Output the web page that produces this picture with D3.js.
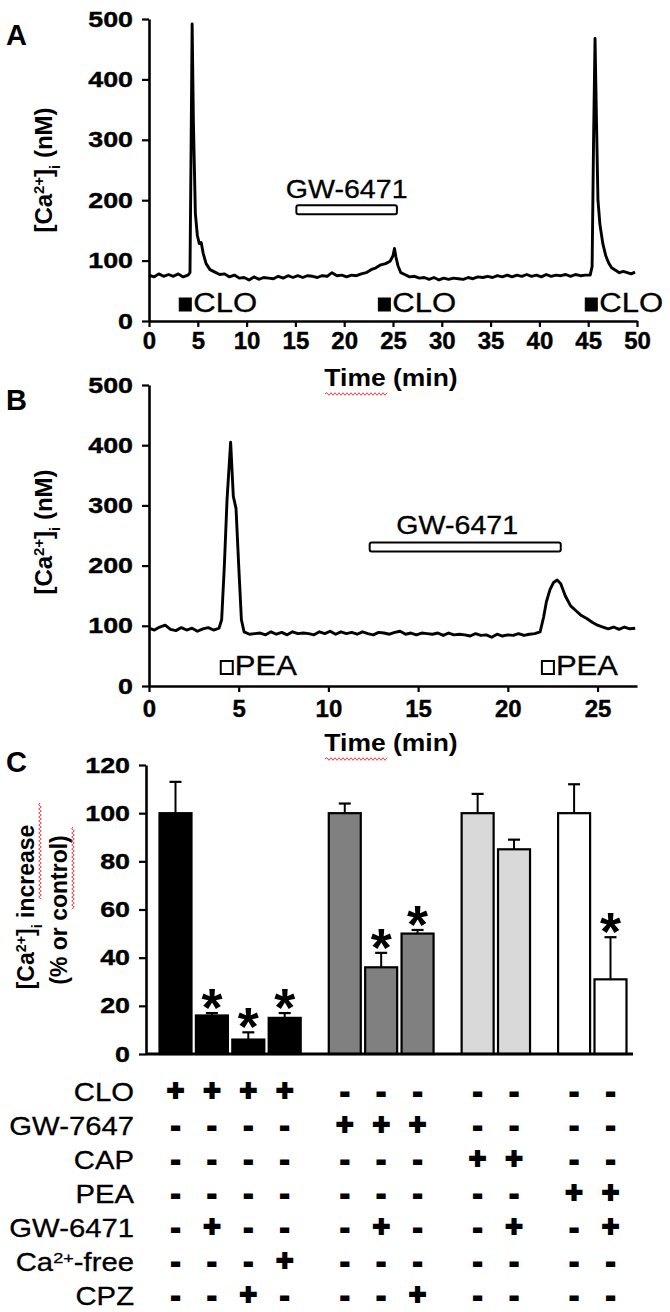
<!DOCTYPE html>
<html><head><meta charset="utf-8">
<script src="https://cdn.jsdelivr.net/npm/d3@7"></script>
<style>
body{margin:0;background:#fff}
svg{display:block}
text{font-family:"Liberation Sans",Arial,sans-serif;fill:#000}
</style>
</head><body>
<svg id="chart" width="670" height="1312"></svg>
<script>
// ---------- DATA ----------
// Panel A: CLO trace
const aTime = [0,0.5,1,1.5,2,2.5,3,3.5,4,4.2,4.32,4.42,4.55,4.75,4.95,5.15,5.35,5.55,5.85,6.25,6.75,7.25,7.75,8.25,8.75,9.25,9.75,10.25,10.75,11.25,11.75,12.25,12.75,13.25,13.75,14.25,14.75,15.25,15.75,16.25,16.75,17.25,17.75,18.25,18.75,19.25,19.75,20.25,20.75,21.25,21.75,22.25,22.75,23.25,23.75,24.25,24.7,25.0,25.15,25.3,25.5,25.8,26.2,26.7,27.2,27.7,28.2,28.7,29.2,29.7,30.2,30.7,31.2,31.7,32.2,32.7,33.2,33.7,34.2,34.7,35.2,35.7,36.2,36.7,37.2,37.7,38.2,38.7,39.2,39.7,40.2,40.7,41.2,41.7,42.2,42.7,43.2,43.7,44.2,44.7,45.2,45.4,45.55,45.7,45.85,46.0,46.2,46.5,46.8,47.1,47.4,47.8,48.2,48.6,49.0,49.4,49.8];
const aCa   = [76,73,78,74,77,74,78,73,76,80,300,492,330,178,142,128,130,112,95,85,81,77,78,73,76,71,72,68,73,69,72,71,70,74,71,75,72,75,72,75,74,72,75,74,80,75,76,73,76,75,78,80,85,88,93,95,99,108,120,106,92,80,77,73,74,71,72,69,72,68,71,69,71,70,69,72,70,73,72,74,72,75,73,76,73,76,74,77,74,76,73,77,74,76,75,77,74,77,75,76,76,90,300,468,330,200,160,128,108,96,88,84,80,82,80,78,81];
const aStimOnset = [3.1, 23.5, 44.7];
const aStimLabel = "CLO";
const aDrugSpan = [15.1, 25.4];
const aDrugLabel = "GW-6471";
const aTicksX = [0,5,10,15,20,25,30,35,40,45,50];
const aTicksY = [0,100,200,300,400,500];

// Panel B: PEA trace
const bTime = [0,0.3,0.6,0.9,1.2,1.5,1.8,2.1,2.4,2.7,3.0,3.3,3.6,3.9,4.05,4.2,4.35,4.55,4.7,4.85,5.0,5.15,5.3,5.6,5.9,6.2,6.5,6.8,7.1,7.4,7.7,8.0,8.3,8.6,8.9,9.2,9.5,9.8,10.1,10.4,10.7,11.0,11.3,11.6,11.9,12.2,12.5,12.8,13.1,13.4,13.7,14.0,14.3,14.6,14.9,15.2,15.5,15.8,16.1,16.4,16.7,17.0,17.3,17.6,17.9,18.2,18.5,18.8,19.1,19.4,19.7,20.0,20.3,20.6,20.9,21.2,21.5,21.8,22.0,22.15,22.35,22.55,22.75,22.95,23.2,23.5,23.8,24.1,24.4,24.7,25.0,25.3,25.6,25.9,26.2,26.5,26.8,27.1];
const bCa   = [96,93,98,101,94,92,97,93,96,91,95,97,93,96,110,200,310,405,315,295,200,110,90,86,87,88,85,90,86,89,85,90,87,88,87,85,90,87,91,86,90,87,89,86,90,87,85,89,88,86,89,91,86,88,85,88,87,86,88,84,88,85,86,85,83,87,84,85,81,86,83,85,84,87,84,86,87,90,115,140,160,172,176,170,150,133,125,117,112,106,101,98,95,98,94,98,95,96];
const bStimOnset = [4.0, 21.9];
const bStimLabel = "PEA";
const bDrugSpan = [12.3, 22.95];
const bDrugLabel = "GW-6471";
const bTicksX = [0,5,10,15,20,25];
const bTicksY = [0,100,200,300,400,500];

// Panel C: bar chart
const cMean  = [100,16,6,15,100,36,50,100,85,100,31];
const cSem   = [13,1,3,2,4,6,1.5,8,4,12,17.5];
const cGroup = [0,0,0,0,1,1,1,2,2,3,3];
const cSig   = [0,1,1,1,0,1,1,0,0,0,1];
const cFills = ["#000000","#808080","#d9d9d9","#ffffff"];
const cTicksY = [0,20,40,60,80,100,120];
const cRowLabels = ["CLO","GW-7647","CAP","PEA","GW-6471","Ca2+-free","CPZ"];
const cRows = [
  "++++-------",
  "----+++----",
  "-------++--",
  "---------++",
  "-+---+--+-+",
  "---+-------",
  "--+---+----"
];

// ---------- DRAWING ----------
const svg = d3.select("#chart");
function stretch(sel, k){
  sel.each(function(){
    const L = this.getComputedTextLength();
    d3.select(this).attr("textLength", L*k).attr("lengthAdjust","spacingAndGlyphs");
  });
}
function caLabel(t, extra){
  t.append("tspan").text("[Ca");
  t.append("tspan").attr("baseline-shift","super").attr("font-size","62%").text("2+");
  t.append("tspan").text("]");
  t.append("tspan").attr("baseline-shift","sub").attr("font-size","62%").text("i");
  t.append("tspan").text(extra);
}
function wavyH(x0,x1,y){
  let d = `M${x0},${y}`; let up = true;
  for(let x=x0+2;x<=x1;x+=2){ d += `L${x},${y+(up?-1.3:1.3)}`; up=!up; }
  svg.append("path").attr("d",d).attr("fill","none").attr("stroke","#e8434a").attr("stroke-width",1);
}
function wavyV(x,y0,y1){
  let d = `M${x},${y0}`; let up = true;
  for(let y=y0+2;y<=y1;y+=2){ d += `L${x+(up?-1.3:1.3)},${y}`; up=!up; }
  svg.append("path").attr("d",d).attr("fill","none").attr("stroke","#e8434a").attr("stroke-width",1);
}
function styleTicks(g, size, k){
  g.selectAll("text").attr("font-size",size).attr("font-weight","bold")
    .attr("font-family","Liberation Sans, Arial").attr("fill","#000")
    .attr("stroke","#000").attr("stroke-width",0.4);
  if(k) stretch(g.selectAll("text"), k);
}

function tracePanel(o){
  const x = d3.scaleLinear().domain(o.xDom).range([149,637]);
  const y = d3.scaleLinear().domain([0,500]).range([o.y0, o.y500]);
  const gx = svg.append("g").attr("transform",`translate(0,${o.y0})`)
    .call(d3.axisBottom(x).tickValues(o.ticksX).tickSize(6).tickSizeOuter(0).tickPadding(o.xPad));
  const gy = svg.append("g").attr("transform",`translate(149,0)`)
    .call(d3.axisLeft(y).tickValues(o.ticksY).tickSize(7).tickSizeOuter(0).tickPadding(9));
  [gx,gy].forEach(g=>{
    g.select(".domain").attr("stroke","#000").attr("stroke-width",2.6);
    g.selectAll(".tick line").attr("stroke","#000").attr("stroke-width",2.2);
  });
  styleTicks(gx, 24, 0);
  styleTicks(gy, 22, 1.22);
  const line = d3.line().x((d,i)=>x(o.time[i])).y(d=>y(d));
  svg.append("path").datum(o.vals).attr("d",line).attr("fill","none")
    .attr("stroke","#000").attr("stroke-width",2.9).attr("stroke-linejoin","round");
  o.stim.forEach(t=>{
    const sx = x(t);
    svg.append("rect").attr("x",sx).attr("y",o.stimY-o.sq).attr("width",o.sq-1).attr("height",o.sq)
      .attr("fill",o.open?"#fff":"#000").attr("stroke","#000").attr("stroke-width",o.open?2:1);
    const tx = svg.append("text").attr("x",sx+o.sq+1).attr("y",o.stimY+1).attr("font-size",27)
      .attr("stroke","#000").attr("stroke-width",0.3).text(o.stimLabel);
    stretch(tx, 1.15);
  });
  const yb = y(o.drugVal);
  svg.append("rect").attr("x",x(o.drug[0])).attr("y",yb-4.5).attr("width",x(o.drug[1])-x(o.drug[0])).attr("height",9)
    .attr("rx",2).attr("fill","#fff").attr("stroke","#000").attr("stroke-width",2);
  const dl = svg.append("text").attr("x",(x(o.drug[0])+x(o.drug[1]))/2+o.labelDx).attr("y",yb-o.labelGap)
    .attr("text-anchor","middle").attr("font-size",26).attr("stroke","#000").attr("stroke-width",0.3).text(o.drugLabel);
  stretch(dl, 1.1);
  const xt = svg.append("text").attr("x",391).attr("y",o.titleY).attr("text-anchor","middle")
    .attr("font-size",23).attr("font-weight","bold").text("Time (min)");
  stretch(xt, 1.15);
  wavyH(325,387,o.titleY+8);
  const yt = svg.append("text").attr("transform",`translate(${o.ytX},${o.ytY}) rotate(-90)`)
    .attr("text-anchor","middle").attr("font-size",24).attr("font-weight","bold");
  caLabel(yt," (nM)");
  svg.append("text").attr("x",6).attr("y",o.letterY).attr("font-size",29).attr("font-weight","bold").text(o.letter);
}

tracePanel({xDom:[0,50], y0:321, y500:19, ticksX:aTicksX, ticksY:aTicksY, time:aTime, vals:aCa,
  stim:aStimOnset, stimLabel:aStimLabel, stimY:311, sq:13, open:false,
  drug:aDrugSpan, drugVal:184, drugLabel:aDrugLabel, labelGap:12, labelDx:0,
  titleY:386, ytX:52, ytY:170, letter:"A", letterY:45, xPad:5});

tracePanel({xDom:[0,27.2], y0:686, y500:385, ticksX:bTicksX, ticksY:bTicksY, time:bTime, vals:bCa,
  stim:bStimOnset, stimLabel:bStimLabel, stimY:674, sq:13, open:true,
  drug:bDrugSpan, drugVal:231, drugLabel:bDrugLabel, labelGap:13, labelDx:-8,
  titleY:751, ytX:52, ytY:532, letter:"B", letterY:410, xPad:8});

// ---------- Panel C ----------
const pos = cMean.map((d,i)=> i + cGroup[i]*0.65);
const xC = d3.scaleLinear().domain([0, pos[pos.length-1]]).range([175.5, 610.5]);
const yC = d3.scaleLinear().domain([0,120]).range([1054,765]);
const bw = 32;

const gyC = svg.append("g").attr("transform","translate(146,0)")
  .call(d3.axisLeft(yC).tickValues(cTicksY).tickSize(7).tickSizeOuter(0).tickPadding(9));
gyC.select(".domain").attr("stroke","#000").attr("stroke-width",2.6);
gyC.selectAll(".tick line").attr("stroke","#000").attr("stroke-width",2.2);
styleTicks(gyC, 22, 1.22);

cMean.forEach((m,i)=>{
  const cx = xC(pos[i]);
  const top = yC(m + cSem[i]);
  svg.append("line").attr("x1",cx).attr("x2",cx).attr("y1",yC(m)).attr("y2",top).attr("stroke","#000").attr("stroke-width",2);
  svg.append("line").attr("x1",cx-6).attr("x2",cx+6).attr("y1",top).attr("y2",top).attr("stroke","#000").attr("stroke-width",2.2);
});
svg.selectAll("rect.bar").data(cMean).enter().append("rect").attr("class","bar")
  .attr("x",(d,i)=>xC(pos[i])-bw/2).attr("width",bw)
  .attr("y",d=>yC(d)).attr("height",d=>yC(0)-yC(d))
  .attr("fill",(d,i)=>cFills[cGroup[i]]).attr("stroke","#000").attr("stroke-width",2.2);
svg.append("line").attr("x1",146).attr("x2",633).attr("y1",yC(0)).attr("y2",yC(0)).attr("stroke","#000").attr("stroke-width",3.2);
cMean.forEach((m,i)=>{
  if(!cSig[i]) return;
  svg.append("text").attr("x",xC(pos[i])).attr("y",yC(m+cSem[i])+13).attr("text-anchor","middle")
    .attr("font-size",54).attr("font-weight","bold").text("*");
});
const c1 = svg.append("text").attr("transform","translate(34,907) rotate(-90)").attr("text-anchor","middle")
  .attr("font-size",23).attr("font-weight","bold");
caLabel(c1," increase");
svg.append("text").attr("transform","translate(67,910) rotate(-90)").attr("text-anchor","middle")
  .attr("font-size",23).attr("font-weight","bold").text("(% or control)");
wavyV(40,803,900);
wavyV(73,827,910);
svg.append("text").attr("x",6).attr("y",772).attr("font-size",29).attr("font-weight","bold").text("C");

const yRow = d3.scalePoint().domain(cRowLabels).range([1101,1305]);
cRowLabels.forEach((lab,r)=>{
  const t = svg.append("text").attr("x",134).attr("y",yRow(lab)).attr("text-anchor","end").attr("font-size",25)
    .attr("stroke","#000").attr("stroke-width",0.3);
  if(lab==="Ca2+-free"){
    t.append("tspan").text("Ca");
    t.append("tspan").attr("baseline-shift","super").attr("font-size","62%").text("2+");
    t.append("tspan").text("-free");
  } else t.text(lab);
  stretch(t, 1.17);
  cRows[r].split("").forEach((s,i)=>{
    svg.append("text").attr("x",xC(pos[i])).attr("y",yRow(lab)+(s==="+"?-1:1)).attr("text-anchor","middle")
      .attr("font-size",s==="+"?30:29).attr("font-weight","bold")
      .attr("stroke","#000").attr("stroke-width",1.8).text(s);
  });
});
</script>
</body></html>
